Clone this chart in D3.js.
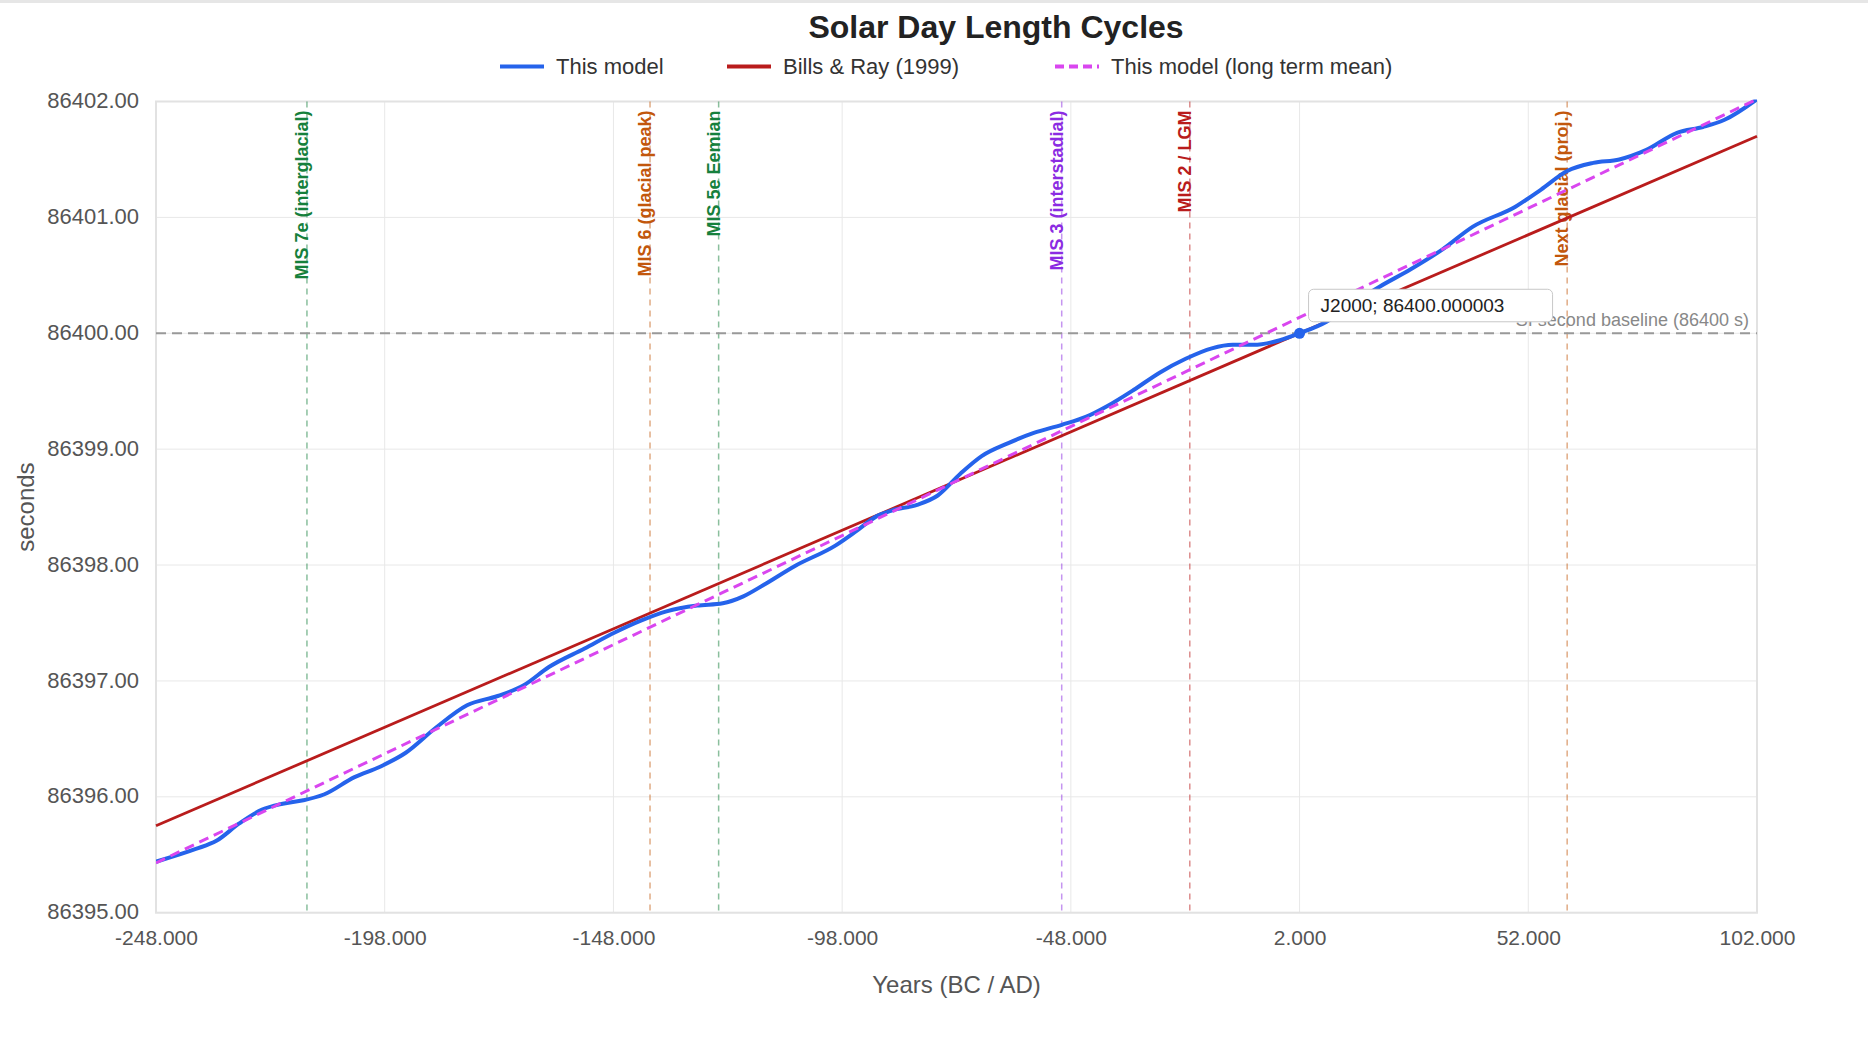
<!DOCTYPE html>
<html>
<head>
<meta charset="utf-8">
<script src="https://cdn.jsdelivr.net/npm/d3@7/dist/d3.min.js"></script>
<style>
  html, body { margin: 0; padding: 0; background: #fff; }
  svg { display: block; font-family: "Liberation Sans", Arial, sans-serif; }
</style>
</head>
<body>
<svg id="chart" width="1868" height="1062"></svg>
<script>
// ---------------- data ----------------
const modelYears = [-248, -239.3, -234.8, -229.8, -224.8, -220.3, -215.8, -211.3, -204.6, -199.0,
  -193.4, -186.7, -180.0, -173.3, -167.7, -162.1, -154.3, -147.6, -142.0, -136.4,
  -129.7, -124.1, -119.6, -115.1, -108.4, -99.4, -95.0, -90.5, -87.2, -81.6,
  -77.1, -72.1, -67.5, -61.8, -56.1, -50.0, -44.6, -40.1, -34.3, -28.6,
  -22.9, -17.2, -12.6, -8.1, -2.3, 2, 7.9, 13.7, 19.4, 26.2,
  33.1, 39.9, 49.1, 54.8, 60.5, 66.2, 71.9, 77.7, 84.5, 90.2, 94.8, 102];
const modelSeconds = [86395.44, 86395.55, 86395.62, 86395.77, 86395.89, 86395.94, 86395.97, 86396.02, 86396.17, 86396.26,
  86396.38, 86396.60, 86396.79, 86396.87, 86396.96, 86397.12, 86397.28, 86397.42, 86397.52, 86397.60,
  86397.65, 86397.67, 86397.73, 86397.83, 86397.99, 86398.17, 86398.29, 86398.42, 86398.47, 86398.52,
  86398.60, 86398.79, 86398.94, 86399.05, 86399.14, 86399.21, 86399.28, 86399.37, 86399.51, 86399.66,
  86399.78, 86399.87, 86399.90, 86399.90, 86399.94, 86400.00, 86400.10, 86400.26, 86400.40, 86400.55,
  86400.72, 86400.92, 86401.09, 86401.24, 86401.40, 86401.47, 86401.50, 86401.58, 86401.73, 86401.78, 86401.84, 86402.02];

const billsRayYears = [-248, 102];
const billsRaySeconds = [86395.75, 86401.70];

const meanYears = [-248, 102];
const meanSeconds = [86395.43, 86402.02];

const markerNames = ["MIS 7e (interglacial)", "MIS 6 (glacial peak)", "MIS 5e Eemian", "MIS 3 (interstadial)", "MIS 2 / LGM", "Next glacial (proj.)"];
const markerYears = [-215, -140, -125, -50, -22, 60.5];
const markerColors = ["#16803c", "#c2570c", "#16803c", "#8b2be2", "#b91c1c", "#c2570c"];

const xTickValues = [-248, -198, -148, -98, -48, 2, 52, 102];
const yTickValues = [86395, 86396, 86397, 86398, 86399, 86400, 86401, 86402];

const seriesNames = ["This model", "Bills & Ray (1999)", "This model (long term mean)"];
const seriesColors = ["#2563eb", "#b91c1c", "#d946ef"];

const baselineValue = 86400;
const baselineLabel = "SI second baseline (86400 s)";
const j2000Year = 2;
const j2000Value = 86400.000003;
const j2000Label = "J2000; 86400.000003";

// ---------------- layout ----------------
const svg = d3.select("#chart");
const W = 1868, H = 1062;
const plot = { left: 156, right: 1757, top: 101.5, bottom: 912.7 };

svg.append("rect").attr("x", 0).attr("y", 0).attr("width", W).attr("height", 3).attr("fill", "#e6e6e6");

const x = d3.scaleLinear().domain([-248, 102]).range([plot.left, plot.right]);
const y = d3.scaleLinear().domain([86395, 86402]).range([plot.bottom, plot.top]);

// grid
const grid = svg.append("g");
grid.selectAll("line.v").data(xTickValues).join("line")
  .attr("x1", d => x(d)).attr("x2", d => x(d))
  .attr("y1", plot.top).attr("y2", plot.bottom)
  .attr("stroke", "#e8e8e8").attr("stroke-width", 1);
grid.selectAll("line.h").data(yTickValues).join("line")
  .attr("y1", d => y(d)).attr("y2", d => y(d))
  .attr("x1", plot.left).attr("x2", plot.right)
  .attr("stroke", "#e8e8e8").attr("stroke-width", 1);
svg.append("rect")
  .attr("x", plot.left).attr("y", plot.top)
  .attr("width", plot.right - plot.left).attr("height", plot.bottom - plot.top)
  .attr("fill", "none").attr("stroke", "#e2e2e2").attr("stroke-width", 2);

// axes
const fmtX = v => d3.format(".3f")(v).replace("\u2212", "-");
const fmtY = v => d3.format(".2f")(v).replace("\u2212", "-");

const xAxis = d3.axisBottom(x).tickValues(xTickValues).tickFormat(fmtX).tickSize(0).tickPadding(0);
const gx = svg.append("g").attr("transform", `translate(0,${plot.bottom})`).call(xAxis);
gx.select(".domain").remove();
gx.selectAll("text").attr("dy", null).attr("y", 32)
  .attr("font-size", 21).attr("fill", "#555").attr("font-family", "Liberation Sans, Arial, sans-serif");

const yAxis = d3.axisLeft(y).tickValues(yTickValues).tickFormat(fmtY).tickSize(0).tickPadding(17);
const gy = svg.append("g").attr("transform", `translate(${plot.left},0)`).call(yAxis);
gy.select(".domain").remove();
gy.selectAll("text").attr("dy", "0.28em")
  .attr("font-size", 22).attr("fill", "#555").attr("font-family", "Liberation Sans, Arial, sans-serif");

// axis titles
svg.append("text").attr("x", (plot.left + plot.right) / 2).attr("y", 993)
  .attr("text-anchor", "middle").attr("font-size", 24).attr("fill", "#555").text("Years (BC / AD)");
svg.append("text").attr("transform", `translate(34,${(plot.top + plot.bottom) / 2}) rotate(-90)`)
  .attr("text-anchor", "middle").attr("font-size", 24).attr("fill", "#555").text("seconds");

// title
svg.append("text").attr("x", 996).attr("y", 38).attr("text-anchor", "middle")
  .attr("font-size", 32).attr("font-weight", "bold").attr("fill", "#222").text("Solar Day Length Cycles");

// legend
const legendX = [500, 727, 1055];
const legendDash = [null, null, "9,5"];
const lg = svg.append("g");
seriesNames.forEach((name, i) => {
  lg.append("line").attr("x1", legendX[i]).attr("x2", legendX[i] + 44)
    .attr("y1", 66.5).attr("y2", 66.5)
    .attr("stroke", seriesColors[i]).attr("stroke-width", 4)
    .attr("stroke-dasharray", legendDash[i]);
  lg.append("text").attr("x", legendX[i] + 56).attr("y", 74)
    .attr("font-size", 22).attr("fill", "#333").text(name);
});

// marker lines + labels
const mk = svg.append("g");
markerYears.forEach((yr, i) => {
  mk.append("line").attr("x1", x(yr)).attr("x2", x(yr))
    .attr("y1", plot.top).attr("y2", plot.bottom)
    .attr("stroke", markerColors[i]).attr("stroke-opacity", 0.5)
    .attr("stroke-width", 1.5).attr("stroke-dasharray", "6,5");
  mk.append("text").attr("transform", `translate(${x(yr) + 1},${plot.top + 9}) rotate(-90)`)
    .attr("text-anchor", "end").attr("font-size", 18).attr("font-weight", "bold")
    .attr("fill", markerColors[i]).text(markerNames[i]);
});

// baseline
svg.append("line").attr("x1", plot.left).attr("x2", plot.right)
  .attr("y1", y(baselineValue)).attr("y2", y(baselineValue))
  .attr("stroke", "#999").attr("stroke-width", 2).attr("stroke-dasharray", "10,6");
svg.append("text").attr("x", 1749).attr("y", y(baselineValue) - 7)
  .attr("text-anchor", "end").attr("font-size", 18).attr("fill", "#888").text(baselineLabel);

// series
const line = d3.line().x(d => x(d[0])).y(d => y(d[1]));
svg.append("clipPath").attr("id", "clip").append("rect")
  .attr("x", plot.left).attr("y", plot.top - 2).attr("width", plot.right - plot.left).attr("height", plot.bottom - plot.top + 4);

svg.append("path").datum(d3.zip(billsRayYears, billsRaySeconds))
  .attr("d", line).attr("fill", "none").attr("stroke", seriesColors[1]).attr("stroke-width", 2.8);

svg.append("path").datum(d3.zip(modelYears, modelSeconds))
  .attr("d", d3.line().x(d => x(d[0])).y(d => y(d[1])).curve(d3.curveMonotoneX)).attr("fill", "none")
  .attr("clip-path", "url(#clip)")
  .attr("stroke", seriesColors[0]).attr("stroke-width", 4).attr("stroke-linejoin", "round");

svg.append("path").datum(d3.zip(meanYears, meanSeconds))
  .attr("d", line)
  .attr("clip-path", "url(#clip)")
  .attr("fill", "none").attr("stroke", seriesColors[2]).attr("stroke-width", 3).attr("stroke-dasharray", "10,6");

// J2000 point + tooltip
const px = x(j2000Year), py = y(j2000Value);
svg.append("circle").attr("cx", px).attr("cy", py).attr("r", 5.5).attr("fill", seriesColors[0]);
const tip = svg.append("g").attr("transform", `translate(${px + 9},${py - 44})`);
tip.append("rect").attr("width", 244).attr("height", 32.5).attr("rx", 5)
  .attr("fill", "#fff").attr("stroke", "#c8c8c8").attr("stroke-width", 1);
tip.append("text").attr("x", 12).attr("y", 23).attr("font-size", 19).attr("fill", "#222").text(j2000Label);
</script>
</body>
</html>
